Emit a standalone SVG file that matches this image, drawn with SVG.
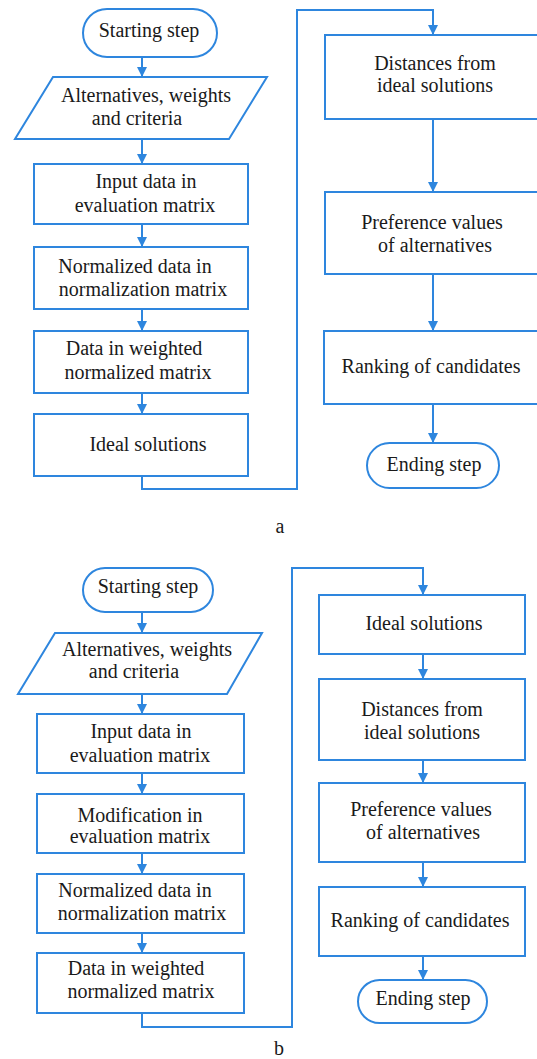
<svg xmlns="http://www.w3.org/2000/svg" width="537" height="1059" viewBox="0 0 537 1059">
<style>
.s{fill:#fff;stroke:#2e86de;stroke-width:2}
.c{fill:none;stroke:#2e86de;stroke-width:2}
.t text{font-family:'Liberation Serif','DejaVu Serif',serif;font-size:20px;fill:#1a1a1a;text-anchor:middle}
</style>
<defs>
<marker id="ah" markerUnits="userSpaceOnUse" markerWidth="12" markerHeight="10" refX="10" refY="5" orient="auto">
<path d="M0,0 L10,5 L0,10 Z" fill="#2e86de"/>
</marker>
</defs>
<rect width="537" height="1059" fill="#fff"/>
<g id="connectors">
<path class="c" d="M142,57 V77" marker-end="url(#ah)"/>
<path class="c" d="M142,139 V164" marker-end="url(#ah)"/>
<path class="c" d="M142,224 V247" marker-end="url(#ah)"/>
<path class="c" d="M142,309 V331" marker-end="url(#ah)"/>
<path class="c" d="M142,393 V414" marker-end="url(#ah)"/>
<path class="c" d="M142,476 V489 H297 V10 H433 V35" marker-end="url(#ah)"/>
<path class="c" d="M433,119 V192" marker-end="url(#ah)"/>
<path class="c" d="M433,274 V331" marker-end="url(#ah)"/>
<path class="c" d="M433,404 V443" marker-end="url(#ah)"/>
<path class="c" d="M142,612 V633" marker-end="url(#ah)"/>
<path class="c" d="M142,694 V714" marker-end="url(#ah)"/>
<path class="c" d="M142,773 V794" marker-end="url(#ah)"/>
<path class="c" d="M142,853 V874" marker-end="url(#ah)"/>
<path class="c" d="M142,933 V953" marker-end="url(#ah)"/>
<path class="c" d="M142,1013 V1027 H292 V568 H423 V595" marker-end="url(#ah)"/>
<path class="c" d="M423,654 V679" marker-end="url(#ah)"/>
<path class="c" d="M423,760 V783" marker-end="url(#ah)"/>
<path class="c" d="M423,862 V887" marker-end="url(#ah)"/>
<path class="c" d="M423,956 V980" marker-end="url(#ah)"/>
</g>
<g class="t" font-family="Liberation Serif, DejaVu Serif, serif" font-size="20" text-anchor="middle" fill="#1a1a1a">
<g id="a-start"><rect class="s" x="83" y="9" width="134" height="48" rx="24"/><text x="149" y="37">Starting step</text></g>
<g id="a-input"><polygon class="s" points="53,77 267,77 229,139 15,139"/><text x="146" y="102">Alternatives, weights</text><text x="137" y="125">and criteria</text></g>
<g id="a-eval"><rect class="s" x="34" y="164" width="214" height="60"/><text x="146" y="188">Input data in</text><text x="145" y="212">evaluation matrix</text></g>
<g id="a-norm"><rect class="s" x="34" y="247" width="214" height="62"/><text x="135" y="273">Normalized data in</text><text x="143" y="296">normalization matrix</text></g>
<g id="a-weighted"><rect class="s" x="34" y="331" width="214" height="62"/><text x="134" y="355">Data in weighted</text><text x="138" y="379">normalized matrix</text></g>
<g id="a-ideal"><rect class="s" x="34" y="414" width="214" height="62"/><text x="148" y="451">Ideal solutions</text></g>
<g id="a-dist"><rect class="s" x="325" y="35" width="230" height="84"/><text x="435" y="70">Distances from</text><text x="435" y="92">ideal solutions</text></g>
<g id="a-pref"><rect class="s" x="325" y="192" width="230" height="82"/><text x="432" y="229">Preference values</text><text x="435" y="252">of alternatives</text></g>
<g id="a-rank"><rect class="s" x="324" y="331" width="231" height="73"/><text x="431" y="373">Ranking of candidates</text></g>
<g id="a-end"><rect class="s" x="367" y="443" width="132" height="45" rx="22.5"/><text x="434" y="471">Ending step</text></g>
<text x="280" y="533">a</text>
<g id="b-start"><rect class="s" x="83" y="568" width="130" height="44" rx="22"/><text x="148" y="593">Starting step</text></g>
<g id="b-input"><polygon class="s" points="55,633 262,633 227,694 18,694"/><text x="147" y="656">Alternatives, weights</text><text x="134" y="678">and criteria</text></g>
<g id="b-eval"><rect class="s" x="37" y="714" width="207" height="59"/><text x="141" y="738">Input data in</text><text x="140" y="762">evaluation matrix</text></g>
<g id="b-mod"><rect class="s" x="37" y="794" width="207" height="59"/><text x="140" y="822">Modification in</text><text x="140" y="843">evaluation matrix</text></g>
<g id="b-norm"><rect class="s" x="37" y="874" width="207" height="59"/><text x="135" y="897">Normalized data in</text><text x="142" y="920">normalization matrix</text></g>
<g id="b-weighted"><rect class="s" x="37" y="953" width="207" height="60"/><text x="136" y="975">Data in weighted</text><text x="141" y="998">normalized matrix</text></g>
<g id="b-ideal"><rect class="s" x="319" y="595" width="206" height="59"/><text x="424" y="630">Ideal solutions</text></g>
<g id="b-dist"><rect class="s" x="319" y="679" width="206" height="81"/><text x="422" y="716">Distances from</text><text x="422" y="739">ideal solutions</text></g>
<g id="b-pref"><rect class="s" x="319" y="783" width="206" height="79"/><text x="421" y="816">Preference values</text><text x="423" y="839">of alternatives</text></g>
<g id="b-rank"><rect class="s" x="319" y="887" width="206" height="69"/><text x="420" y="927">Ranking of candidates</text></g>
<g id="b-end"><rect class="s" x="358" y="980" width="129" height="43" rx="21.5"/><text x="423" y="1005">Ending step</text></g>
<text x="279" y="1055">b</text>
</g>
</svg>
